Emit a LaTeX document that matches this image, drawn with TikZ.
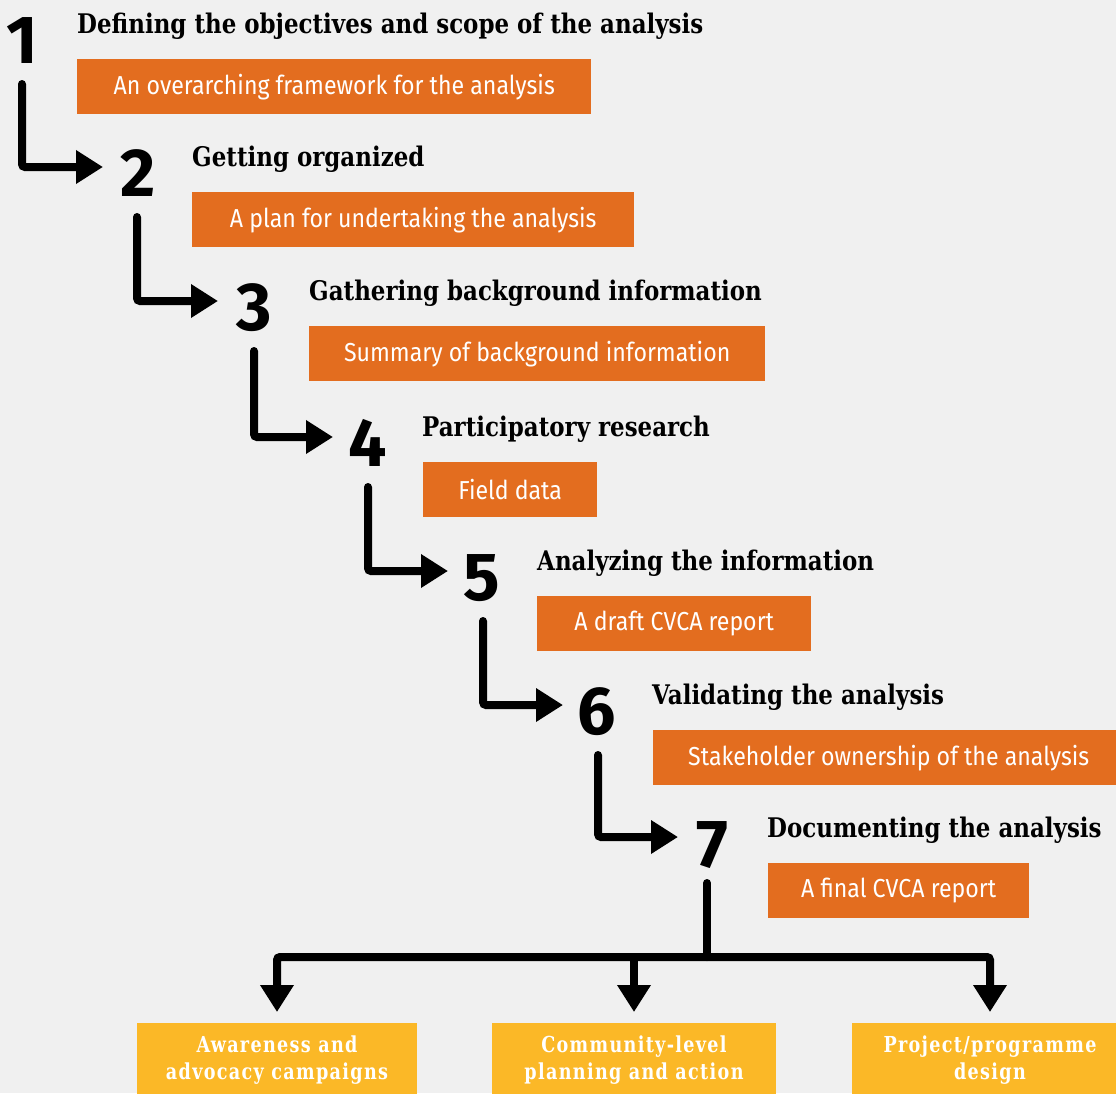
\documentclass[tikz,border=0pt]{standalone}
\usepackage{fontspec}
\usetikzlibrary{arrows.meta,calc}
\newfontfamily\headfont[FakeStretch=0.85]{DejaVu Serif}
\newfontfamily\boxfont[FakeStretch=0.89]{Fira Sans}
\newfontfamily\numfont{Fira Sans}
\newfontfamily\yfont[FakeStretch=0.8,LetterSpace=6]{DejaVu Serif}
\definecolor{bgc}{HTML}{F0F0F0}
\definecolor{orng}{HTML}{E36D1F}
\definecolor{yell}{HTML}{FBB827}
\tikzset{
  num/.style={inner sep=0pt, anchor=base, font=\numfont\bfseries\fontsize{68}{68}\selectfont},
  ttl/.style={inner sep=0pt, anchor=base west, font=\headfont\bfseries\fontsize{27}{27}\selectfont},
  obox/.style={anchor=north west, fill=orng, text=white, inner sep=0pt, minimum height=55pt, font=\boxfont\fontsize{26}{26}\selectfont},
  ybox/.style={anchor=north, fill=yell, text=white, inner sep=0pt, minimum height=74pt, minimum width=280pt, align=center, font=\yfont\bfseries\fontsize{22}{27}\selectfont},
  conn/.style={line width=8pt, rounded corners=3pt, line cap=round, -{Triangle[length=27pt,width=32pt]}},
  plain/.style={line width=8pt, line cap=round}
}
\begin{document}
\begin{tikzpicture}[x=1pt,y=-1pt]
\useasboundingbox (0,0) rectangle (1116,1093);
\fill[bgc] (0,0) rectangle (1116,1093);
\clip (0,0) rectangle (1116,1093);
% numbers
\node[num] (n1) at (22,63) {1};
\node[num] (n2) at (138,196) {2};
\node[num] (n3) at (254,330) {3};
\node[num] (n4) at (368,466) {4};
\node[num] (n5) at (482,600) {5};
\node[num] (n6) at (597,734) {6};
\node[num] (n7) at (712,867) {7};
% titles
\node[ttl] (t1) at (77,33) {Defining the objectives and scope of the analysis};
\node[ttl] (t2) at (192,166) {Getting organized};
\node[ttl] (t3) at (309,300) {Gathering background information};
\node[ttl] (t4) at (422,436) {Participatory research};
\node[ttl] (t5) at (537,570) {Analyzing the information};
\node[ttl] (t6) at (652,704) {Validating the analysis};
\node[ttl] (t7) at (767,837) {Documenting the analysis};
% orange boxes
\node[obox, minimum width=514pt] (b1) at (77,59) {An overarching framework for the analysis};
\node[obox, minimum width=442pt] (b2) at (192,192) {A plan for undertaking the analysis};
\node[obox, minimum width=456pt] (b3) at (309,326) {Summary of background information};
\node[obox, minimum width=174pt] (b4) at (423,462) {Field data};
\node[obox, minimum width=274pt] (b5) at (537,596) {A draft CVCA report};
\node[obox, minimum width=471pt] (b6) at (653,730) {Stakeholder ownership of the analysis};
\node[obox, minimum width=261pt] (b7) at (768,863) {A final CVCA report};
% yellow boxes
\node[ybox] (y1) at (277,1023) {Awareness and\\advocacy campaigns};
\node[ybox, minimum width=284pt] (y2) at (634,1023) {Community-level\\planning and action};
\node[ybox, minimum width=276pt] (y3) at (990,1023) {Project/programme\\design};
% connectors
\draw[conn] ($(n1.base)+(0,21)$) |- ($(n2.base)+(-35,-29)$);
\draw[conn] ($(n2.base)+(-1,21)$) |- ($(n3.base)+(-36,-29)$);
\draw[conn] ($(n3.base)+(0,21)$) |- ($(n4.base)+(-35,-29)$);
\draw[conn] ($(n4.base)+(0,21)$) |- ($(n5.base)+(-34,-29)$);
\draw[conn] ($(n5.base)+(1,21)$) |- ($(n6.base)+(-34,-29)$);
\draw[conn] ($(n6.base)+(1,21)$) |- ($(n7.base)+(-34,-30)$);
\coordinate (hub) at ($(n7.base)+(-5,90)$);
\draw[plain] ($(n7.base)+(-5,16)$) -- (hub);
\draw[conn, shorten >=11pt] (hub) -| (y1.north);
\draw[conn, shorten >=11pt] (hub) -| (y3.north);
\draw[conn, shorten >=11pt] (y2.north |- hub) -- (y2.north);
\end{tikzpicture}
\end{document}
